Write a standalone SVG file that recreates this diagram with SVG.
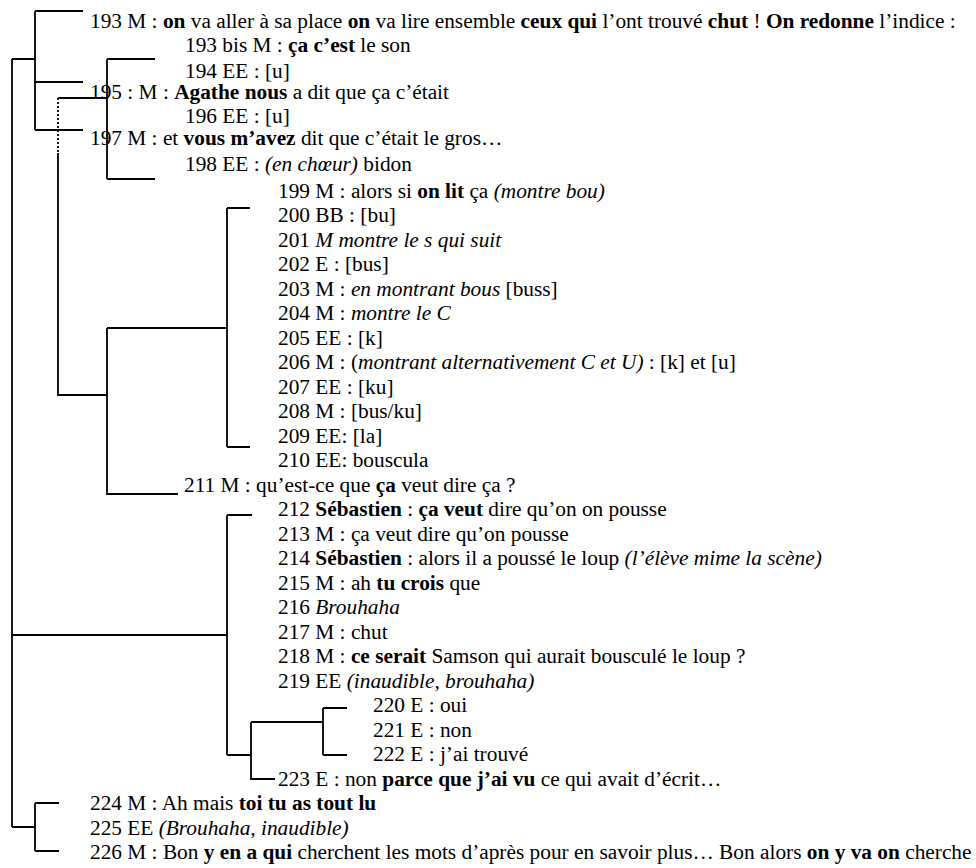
<svg xmlns="http://www.w3.org/2000/svg" width="976" height="868" viewBox="0 0 976 868">
<style>
text{font-family:'Liberation Serif','Times New Roman',serif;font-size:21.33px;fill:#000}
.b{font-weight:bold}
.i{font-style:italic}
.c{stroke:#000;stroke-width:1.8;fill:none}
.d{stroke:#000;stroke-width:1.8;fill:none;stroke-dasharray:2 2}
</style>
<rect width="976" height="868" fill="#fff"/>
<g id="connectors">
<path class="c" d="M12 59V827M12 59H35M35 11V130M35 11H83M35 82H83M35 130H83"/>
<path class="c" d="M107 59V179M107 59H155M107 179H155M58 98H107"/>
<path class="d" d="M58 98V153"/>
<path class="c" d="M58 153V395H107M107 328V494H178M107 328H227M227 208V447M227 208H250M227 447H250"/>
<path class="c" d="M227 515V755M227 515H252M12 635H227M227 755H251M251 722V779H275M251 722H323M323 708V755M323 708H347M323 755H347"/>
<path class="c" d="M12 827H35M35 803V851M35 803H59M35 851H59"/>
</g>
<g id="n193"><text x="90" y="28">193 M : <tspan class="b">on</tspan> va aller à sa place <tspan class="b">on</tspan> va lire ensemble <tspan class="b">ceux qui</tspan> l’ont trouvé <tspan class="b">chut</tspan> ! <tspan class="b">On redonne</tspan> l’indice :</text></g>
<g id="n193bis"><text x="185" y="51.5">193 bis M : <tspan class="b">ça c’est</tspan> le son</text></g>
<g id="n194"><text x="185" y="77.5">194 EE : [u]</text></g>
<g id="n195"><text x="90" y="98.5">195 : M : <tspan class="b">Agathe nous</tspan> a dit que ça c’était</text></g>
<g id="n196"><text x="185" y="123">196 EE : [u]</text></g>
<g id="n197"><text x="90" y="145">197 M : et <tspan class="b">vous m’avez</tspan> dit que c’était le gros…</text></g>
<g id="n198"><text x="185" y="171">198 EE : <tspan class="i">(en chœur)</tspan> bidon</text></g>
<g id="n199"><text x="278" y="197.5">199 M : alors si <tspan class="b">on lit</tspan> ça <tspan class="i">(montre bou)</tspan></text></g>
<g id="n200"><text x="278" y="222">200 BB : [bu]</text></g>
<g id="n201"><text x="278" y="246.5">201 <tspan class="i">M montre le s qui suit</tspan></text></g>
<g id="n202"><text x="278" y="271">202 E : [bus]</text></g>
<g id="n203"><text x="278" y="295.5">203 M : <tspan class="i">en montrant bous</tspan> [buss]</text></g>
<g id="n204"><text x="278" y="320">204 M : <tspan class="i">montre le C</tspan></text></g>
<g id="n205"><text x="278" y="344.5">205 EE : [k]</text></g>
<g id="n206"><text x="278" y="369">206 M : (<tspan class="i">montrant alternativement C et U)</tspan> : [k] et [u]</text></g>
<g id="n207"><text x="278" y="393.5">207 EE : [ku]</text></g>
<g id="n208"><text x="278" y="418">208 M : [bus/ku]</text></g>
<g id="n209"><text x="278" y="442.5">209 EE: [la]</text></g>
<g id="n210"><text x="278" y="467">210 EE: bouscula</text></g>
<g id="n211"><text x="184" y="491.5">211 M : qu’est-ce que <tspan class="b">ça</tspan> veut dire ça ?</text></g>
<g id="n212"><text x="278" y="516">212 <tspan class="b">Sébastien</tspan> : <tspan class="b">ça veut</tspan> dire qu’on on pousse</text></g>
<g id="n213"><text x="278" y="540.5">213 M : ça veut dire qu’on pousse</text></g>
<g id="n214"><text x="278" y="565">214 <tspan class="b">Sébastien</tspan> : alors il a poussé le loup <tspan class="i">(l’élève mime la scène)</tspan></text></g>
<g id="n215"><text x="278" y="589.5">215 M : ah <tspan class="b">tu crois</tspan> que</text></g>
<g id="n216"><text x="278" y="614">216 <tspan class="i">Brouhaha</tspan></text></g>
<g id="n217"><text x="278" y="638.5">217 M : chut</text></g>
<g id="n218"><text x="278" y="663">218 M : <tspan class="b">ce serait</tspan> Samson qui aurait bousculé le loup ?</text></g>
<g id="n219"><text x="278" y="687.5">219 EE <tspan class="i">(inaudible, brouhaha)</tspan></text></g>
<g id="n220"><text x="373" y="712">220 E : oui</text></g>
<g id="n221"><text x="373" y="736.5">221 E : non</text></g>
<g id="n222"><text x="373" y="761">222 E : j’ai trouvé</text></g>
<g id="n223"><text x="278" y="785.5">223 E : non <tspan class="b">parce que j’ai vu</tspan> ce qui avait d’écrit…</text></g>
<g id="n224"><text x="90" y="810">224 M : Ah mais <tspan class="b">toi tu as tout lu</tspan></text></g>
<g id="n225"><text x="90" y="834.5">225 EE <tspan class="i">(Brouhaha, inaudible)</tspan></text></g>
<g id="n226"><text x="90" y="859">226 M : Bon <tspan class="b">y en a qui</tspan> cherchent les mots d’après pour en savoir plus… Bon alors <tspan class="b">on y va on</tspan> cherche</text></g>
</svg>
